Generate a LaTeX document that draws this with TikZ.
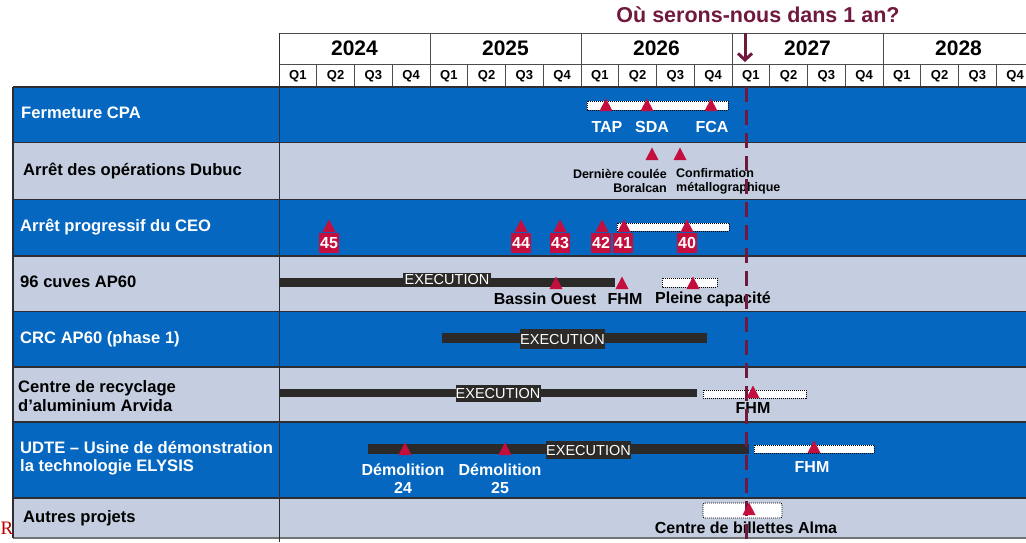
\documentclass[tikz,border=0pt]{standalone}
\usepackage{fontspec}
\setmainfont{Liberation Sans}
\newfontfamily\serifR{Liberation Serif}
\usetikzlibrary{arrows.meta}
\definecolor{cpblue}{RGB}{5,103,192}
\definecolor{cplight}{RGB}{196,206,224}
\definecolor{crim}{RGB}{196,14,62}
\definecolor{cpmaroon}{RGB}{112,24,62}
\definecolor{barcol}{RGB}{43,42,40}
\definecolor{rowline}{RGB}{45,45,50}
\newcommand\myfs[1]{\fontsize{#1}{#1}\selectfont}
\newcommand\myfsl[2]{\fontsize{#1}{#2}\selectfont}
\newcommand\ms[2]{\fill[crim] (#1-6.5,#2) -- (#1+6.5,#2) -- (#1,#2-12.5) -- cycle;}
\tikzset{
  lab/.style={anchor=west, font=\bfseries\myfs{16.6}, inner sep=0, align=left},
  mslab/.style={font=\bfseries\myfs{16}, inner sep=0, align=center},
  small/.style={font=\bfseries\myfsl{12.5}{14}, inner sep=0},
  exec/.style={fill=barcol, text=white, font=\myfs{14.5}, inner sep=0},
  plan/.style={draw=black, fill=white, line width=0.9pt, dash pattern=on 1pt off 1pt},
  numbox/.style={fill=crim, text=white, font=\bfseries\myfs{16}, minimum size=20pt, inner sep=0},
  yr/.style={font=\bfseries\myfs{21}, inner sep=0},
  qt/.style={font=\bfseries\myfs{13}, inner sep=0},
  hdr/.style={draw=black!70, line width=0.9pt},
  rowb/.style={draw=rowline, line width=1.6pt},
}
\begin{document}
\begin{tikzpicture}[x=1pt,y=-1pt]
\useasboundingbox (0,0) rectangle (1026,542);
\clip (0,0) rectangle (1026,542);
\fill[white] (0,0) rectangle (1026,542);
% title and arrow
\node[font=\bfseries\myfs{21.5}, text=cpmaroon, inner sep=0] (title) at (758,15) {Où serons-nous dans 1 an?};
% header
\fill[white] (279,33) rectangle (1026,87);
\draw[hdr] (279,33) -- (1026,33);
\draw[hdr] (279,64) -- (1026,64);
\foreach \i in {1,...,4} \draw[hdr] (279+\i*151,33) -- (279+\i*151,64);
\foreach \i in {1,...,19} \draw[hdr] (279+\i*37.75,64) -- (279+\i*37.75,87);
\foreach \y [count=\i from 0] in {2024,2025,2026,2027,2028}
  \node[yr] (y\y) at (279+\i*151+75.5,48) {\y};
\foreach \i in {0,...,19} {
  \pgfmathtruncatemacro\qq{mod(\i,4)+1}
  \node[qt] (q\i) at (279+\i*37.75+18.9,76) {Q\qq};
}
\coordinate (arrA) at (745,33);
\coordinate (arrB) at (745,62);
\draw[cpmaroon, line width=3pt, -{Straight Barb[length=6.5pt,width=14pt]}] (arrA) -- (arrB);
% rows
\fill[cpblue] (13,87) rectangle (1026,142.5);
\fill[cplight] (13,142.5) rectangle (1026,199.5);
\fill[cpblue] (13,199.5) rectangle (1026,256);
\fill[cplight] (13,256) rectangle (1026,311.5);
\fill[cpblue] (13,311.5) rectangle (1026,367);
\fill[cplight] (13,367) rectangle (1026,422);
\fill[cpblue] (13,422) rectangle (1026,498);
\fill[cplight] (13,498) rectangle (1026,538);
\foreach \yy in {87,142.5,199.5,256,311.5,367,422,498}
  \draw[rowb] (13,\yy) -- (1026,\yy);
\draw[draw=black!55, line width=2pt] (13,538) -- (1026,538);
\draw[rowb] (13,87) -- (13,538);
\draw[draw=rowline, line width=0.9pt] (279,33) -- (279,542);
% left labels
\node[lab, text=white] (l1) at (21,113) {Fermeture CPA};
\node[lab, text=black] (l2) at (23,171) {Arrêt des opérations Dubuc};
\node[lab, text=white] (l3) at (20,227) {Arrêt progressif du CEO};
\node[lab, text=black] (l4) at (20,282) {96 cuves AP60};
\node[lab, text=white] (l5) at (20,339) {CRC AP60 (phase 1)};
\node[lab, text=black, font=\bfseries\myfsl{16.6}{19}] (l6) at (18,396.5) {Centre de recyclage\\d’aluminium Arvida};
\node[lab, text=white, font=\bfseries\myfsl{16.6}{18}] (l7) at (20,458) {UDTE – Usine de démonstration\\la technologie ELYSIS};
\node[lab, text=black] (l8) at (23,518) {Autres projets};
\node[font=\serifR\myfs{19}, text=red!75!black, inner sep=0, anchor=west] (rr) at (0.5,528) {R};
% row 1
\draw[plan] (587,101) rectangle (728,110);
\node[mslab, text=white] (tap) at (607,127) {TAP};
\node[mslab, text=white] (sda) at (652,127) {SDA};
\node[mslab, text=white] (fca) at (712,127) {FCA};
% row 2
\node[small, align=right, anchor=east] (dc) at (667,181) {Dernière coulée\\Boralcan};
\node[small, align=left, anchor=west] (cm) at (676,181) {Confirmation\\métallographique};
% row 3
\draw[plan] (617,223) rectangle (729,231);
\node[numbox] (n45) at (329,243) {45};
\node[numbox] (n44) at (521,243) {44};
\node[numbox] (n43) at (560,243) {43};
\node[numbox] (n42) at (601,243) {42};
\node[numbox] (n41) at (623,243) {41};
\node[numbox] (n40) at (687,243) {40};
% row 4
\fill[barcol] (279,278) rectangle (615,287);
\node[exec, minimum width=88pt, minimum height=14pt] (e4) at (447,280) {EXECUTION};
\draw[plan] (662,278) rectangle (717,287);
\node[mslab] (bo) at (545,299) {Bassin Ouest};
\node[mslab] (fhm4) at (625,299) {FHM};
\node[mslab] (pc) at (713,299) {Pleine capacité};
% row 5
\fill[barcol] (442,333) rectangle (707,343);
\node[exec, minimum width=84pt, minimum height=20pt] (e5) at (562.5,339) {EXECUTION};
% row 6
\fill[barcol] (279,389) rectangle (697,397);
\node[exec, minimum width=85pt, minimum height=17pt] (e6) at (498,393.5) {EXECUTION};
\draw[plan] (703,390) rectangle (806,398);
\node[mslab] (fhm6) at (753,408) {FHM};
% row 7
\fill[barcol] (368,444) rectangle (749,454);
\node[exec, minimum width=84pt, minimum height=18pt] (e7) at (588.5,450) {EXECUTION};
\draw[plan] (754,445) rectangle (874,453);
\node[mslab, text=white, font=\bfseries\myfsl{16}{18}] (d24) at (403,479) {Démolition\\24};
\node[mslab, text=white, font=\bfseries\myfsl{16}{18}] (d25) at (500,479) {Démolition\\25};
\node[mslab, text=white] (fhm7) at (812,467) {FHM};
% row 8
\draw[plan, rounded corners=2pt] (703,503) rectangle (782,518);
\node[mslab] (cba) at (746,528) {Centre de billettes Alma};
% now line
\coordinate (nowT) at (746,87);
\coordinate (nowB) at (746,542);
\draw[cpmaroon, line width=3pt, dash pattern=on 15pt off 8pt] (nowT) -- (nowB);
% milestones
\ms{606}{111}\ms{647}{111}\ms{711}{111}
\ms{652}{160}\ms{680}{160}
\ms{329}{232}\ms{521}{232}\ms{560}{232}\ms{602}{232}\ms{624}{232}\ms{687}{232}
\ms{556}{289}\ms{622}{289}\ms{693}{289}
\ms{753}{398}
\ms{405}{455}\ms{505}{455}\ms{814}{453}
\ms{749}{515}
\end{tikzpicture}
\end{document}
